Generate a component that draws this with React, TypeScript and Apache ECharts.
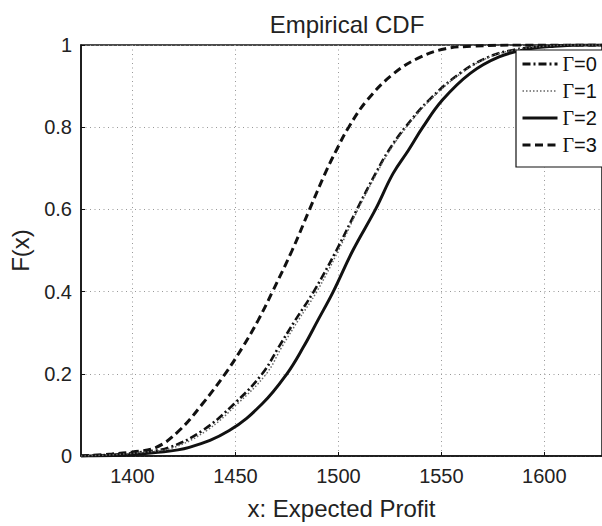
import React, { useEffect, useRef } from "react";
import * as echarts from "echarts";

const seriesNames = ["Γ=0", "Γ=1", "Γ=2", "Γ=3"];

const xTicks = [1400, 1450, 1500, 1550, 1600];

// Γ=0 (dash-dot)
const g0X = [1375, 1390, 1405, 1418, 1434, 1449.4, 1463, 1471, 1479, 1488, 1499, 1509, 1518, 1524.5, 1532.5, 1544, 1559, 1573, 1585, 1600, 1615, 1628];
const g0F = [0, 0.003, 0.01, 0.021, 0.062, 0.127, 0.2, 0.265, 0.33, 0.4, 0.5, 0.6, 0.687, 0.744, 0.8, 0.866, 0.931, 0.971, 0.988, 0.997, 1, 1];

// Γ=1 (dotted)
const g1X = [1375, 1390, 1405, 1419.5, 1436, 1451, 1465, 1472.5, 1480.5, 1489.5, 1500, 1509.5, 1518.5, 1525, 1533, 1544.5, 1559.5, 1573.5, 1585.5, 1600, 1615, 1628];
const g1F = [0, 0.003, 0.009, 0.02, 0.062, 0.127, 0.2, 0.265, 0.33, 0.4, 0.5, 0.6, 0.687, 0.744, 0.8, 0.866, 0.931, 0.971, 0.988, 0.997, 1, 1];

// Γ=2 (solid)
const g2X = [1375, 1395, 1410, 1427.6, 1447, 1463, 1475, 1483, 1490, 1497.5, 1507, 1518, 1526.5, 1534, 1541, 1550.5, 1564, 1578, 1592, 1605, 1620, 1628];
const g2F = [0, 0.002, 0.008, 0.021, 0.062, 0.127, 0.2, 0.265, 0.33, 0.4, 0.5, 0.6, 0.687, 0.744, 0.8, 0.866, 0.931, 0.971, 0.99, 0.997, 1, 1];

// Γ=3 (dashed)
const g3X = [1375, 1390, 1400, 1411.5, 1422.7, 1434, 1445, 1453.5, 1461, 1468, 1477.5, 1486, 1493.5, 1499, 1505, 1514, 1527, 1540, 1552, 1565, 1588, 1628];
const g3F = [0, 0.005, 0.01, 0.021, 0.062, 0.127, 0.2, 0.265, 0.33, 0.4, 0.5, 0.6, 0.687, 0.744, 0.8, 0.866, 0.931, 0.971, 0.991, 0.997, 1, 1];

const zip = (xs: number[], fs: number[]) => xs.map((x, i) => [x, fs[i]]);

const lineStyles = [
  { color: "#111", width: 2.6, type: [8, 3, 2, 3] as any },
  { color: "#666", width: 1.5, type: [1.5, 2] as any },
  { color: "#111", width: 3, type: "solid" as any },
  { color: "#111", width: 3, type: [8, 4.5] as any },
];

export default function App() {
  const ref = useRef<HTMLDivElement>(null);
  useEffect(() => {
    if (!ref.current) return;
    const chart = echarts.init(ref.current, null, { renderer: "svg" });
    const datas = [zip(g0X, g0F), zip(g1X, g1F), zip(g2X, g2F), zip(g3X, g3F)];
    const font = "Liberation Sans, Arial, Helvetica, sans-serif";
    chart.setOption({
      animation: false,
      backgroundColor: "#fff",
      title: {
        text: "Empirical CDF",
        left: 342,
        textAlign: "center",
        top: 7,
        textStyle: { fontFamily: font, fontSize: 24, fontWeight: "normal", color: "#222" },
      },
      grid: {
        left: 81,
        right: -3,
        top: 45,
        bottom: 70,
        show: true,
        borderColor: "#111",
        borderWidth: 1.5,
        backgroundColor: "transparent",
      },
      legend: {
        orient: "vertical",
        left: 516,
        top: 50,
        padding: [4, 12, 12, 5],
        itemGap: 7,
        itemWidth: 35,
        itemHeight: 14,
        backgroundColor: "#fff",
        borderColor: "#111",
        borderWidth: 1.2,
        borderRadius: 0,
        data: seriesNames.map((n, i) => ({
          name: n,
          itemStyle: { opacity: 0 },
          lineStyle: { ...lineStyles[i], width: i === 1 ? 1.5 : 3 },
        })),
        formatter: (name: string) => "{g|Γ}{n|" + name.slice(1) + "}",
        textStyle: {
          rich: {
            g: { fontFamily: "Liberation Serif, serif", fontSize: 20, color: "#111" },
            n: { fontFamily: font, fontSize: 20, color: "#111" },
          },
        },
      },
      xAxis: {
        type: "value",
        min: 1375,
        max: 1628,
        name: "x: Expected Profit",
        nameLocation: "middle",
        nameGap: 40,
        nameTextStyle: { fontFamily: font, fontSize: 24, color: "#222" },
        axisLine: { show: true, onZero: false, lineStyle: { color: "#111", width: 1.5 } },
        axisTick: { show: true, inside: true, length: 4, customValues: xTicks, lineStyle: { color: "#111" } },
        axisLabel: {
          customValues: xTicks,
          margin: 10,
          fontFamily: font,
          fontSize: 20,
          color: "#222",
          formatter: (v: number) => String(v),
        },
        splitLine: { show: true, lineStyle: { color: "#999", width: 1, type: [1, 3.5] } },
      },
      yAxis: {
        type: "value",
        min: 0,
        max: 1,
        interval: 0.2,
        name: "F(x)",
        nameLocation: "middle",
        nameGap: 49,
        nameTextStyle: { fontFamily: font, fontSize: 24, color: "#222" },
        axisLine: { show: true, lineStyle: { color: "#111", width: 1.5 } },
        axisTick: { show: true, inside: true, length: 4, lineStyle: { color: "#111" } },
        axisLabel: {
          margin: 9,
          fontFamily: font,
          fontSize: 20,
          color: "#222",
          formatter: (v: number) => String(Math.round(v * 10) / 10),
        },
        splitLine: { show: true, lineStyle: { color: "#999", width: 1, type: [1, 3.5] } },
      },
      series: seriesNames.map((n, i) => ({
        name: n,
        type: "line",
        data: datas[i],
        smooth: 0.4,
        symbol: "none",
        showSymbol: false,
        itemStyle: { color: "#111" },
        lineStyle: lineStyles[i],
        z: i === 1 ? 5 : 3,
      })),
    });
    return () => chart.dispose();
  }, []);
  return (
    <div
      ref={ref}
      style={{ position: "fixed", left: 0, top: 0, width: 602, height: 526, background: "#fff" }}
    />
  );
}
